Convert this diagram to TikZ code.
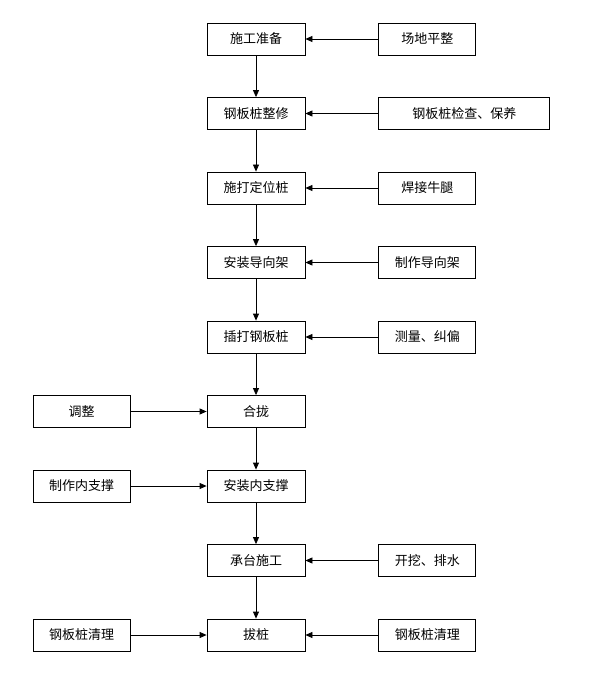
\documentclass[tikz,border=0pt]{standalone}
\usepackage{fontspec}
\setmainfont{Noto Sans CJK SC}
\usepackage{tikz}
\usetikzlibrary{arrows.meta,positioning}

\begin{document}
\begin{tikzpicture}[
  x=1pt, y=1pt,
  stepbox/.style={draw, line width=0.8pt, minimum width=98pt, minimum height=32pt,
                  inner sep=2pt, align=center, font=\fontsize{13pt}{15pt}\selectfont},
  sidebox/.style={stepbox, minimum width=97pt},
  arr/.style={-{Triangle[length=7pt,width=6pt]}, line width=0.8pt},
  node distance=41.7pt and 73pt
]
  \useasboundingbox (0,0) rectangle (595,-676);

  % main sequence
  \node[stepbox] (prep) at (256,-39) {施工准备};
  \node[stepbox, below=of prep]  (repair) {钢板桩整修};
  \node[stepbox, below=of repair] (locate) {施打定位桩};
  \node[stepbox, below=of locate] (guide)  {安装导向架};
  \node[stepbox, below=of guide]  (drive)  {插打钢板桩};
  \node[stepbox, below=of drive]  (close)  {合拢};
  \node[stepbox, below=of close]  (brace)  {安装内支撑};
  \node[stepbox, below=of brace]  (cap)    {承台施工};
  \node[stepbox, below=of cap]    (pull)   {拔桩};

  % right side inputs
  \node[sidebox, right=of prep]   (level)  {场地平整};
  \node[sidebox, right=of repair, minimum width=171pt] (check) {钢板桩检查、保养};
  \node[sidebox, right=of locate] (weld)   {焊接牛腿};
  \node[sidebox, right=of guide]  (mkguide) {制作导向架};
  \node[sidebox, right=of drive]  (survey) {测量、纠偏};
  \node[sidebox, right=of cap]    (dig)    {开挖、排水};
  \node[sidebox, right=of pull]   (cleanr) {钢板桩清理};

  % left side inputs
  \node[sidebox, left=76pt of close] (adjust) {调整};
  \node[sidebox, left=76pt of brace] (mkbrace) {制作内支撑};
  \node[sidebox, left=76pt of pull]  (cleanl) {钢板桩清理};

  \draw[arr] (prep)   -- (repair);
  \draw[arr] (repair) -- (locate);
  \draw[arr] (locate) -- (guide);
  \draw[arr] (guide)  -- (drive);
  \draw[arr] (drive)  -- (close);
  \draw[arr] (close)  -- (brace);
  \draw[arr] (brace)  -- (cap);
  \draw[arr] (cap)    -- (pull);

  \draw[arr] (level)   -- (prep);
  \draw[arr] (check)   -- (repair);
  \draw[arr] (weld)    -- (locate);
  \draw[arr] (mkguide) -- (guide);
  \draw[arr] (survey)  -- (drive);
  \draw[arr] (dig)     -- (cap);
  \draw[arr] (cleanr)  -- (pull);

  \draw[arr] (adjust)  -- (close);
  \draw[arr] (mkbrace) -- (brace);
  \draw[arr] (cleanl)  -- (pull);
\end{tikzpicture}
\end{document}
